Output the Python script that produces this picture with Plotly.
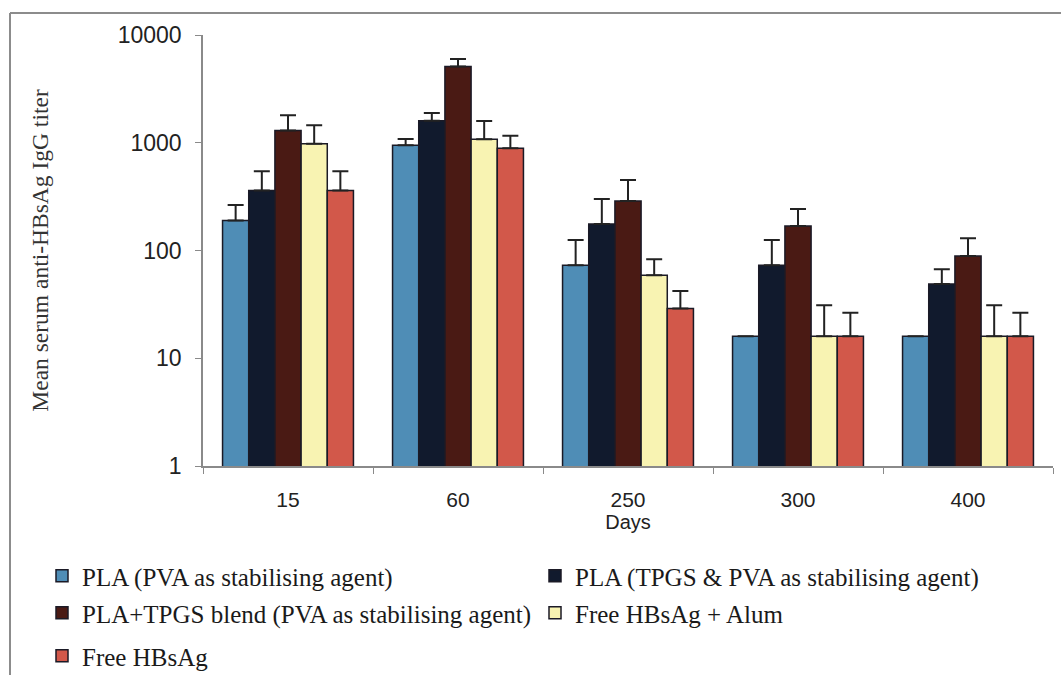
import plotly.graph_objects as go

# Sampling days (x categories)
days = ["15", "60", "250", "300", "400"]

# Formulation names
series_names = [
    "PLA (PVA as stabilising agent)",
    "PLA (TPGS & PVA as stabilising agent)",
    "PLA+TPGS blend (PVA as stabilising agent)",
    "Free HBsAg + Alum",
    "Free HBsAg",
]

# Mean titers per formulation, one value per day
pla_pva = [190, 950, 73, 16, 16]
pla_tpgs_pva = [360, 1600, 176, 73, 49]
pla_tpgs_blend = [1300, 5100, 288, 169, 89]
free_alum = [980, 1080, 59, 16, 16]
free_hbsag = [360, 890, 29, 16, 16]

# Upper error (SD) per formulation, one value per day
pla_pva_err = [75, 135, 52, None, None]
pla_tpgs_pva_err = [185, 290, 124, 52, 18]
pla_tpgs_blend_err = [500, 900, 164, 74, 41]
free_alum_err = [470, 510, 24, 15, 15]
free_hbsag_err = [185, 270, 13, 10.5, 10.5]

y_tick_values = [1, 10, 100, 1000, 10000]
y_tick_labels = ["1", "10", "100", "1000", "10000"]

values = [pla_pva, pla_tpgs_pva, pla_tpgs_blend, free_alum, free_hbsag]
errors = [pla_pva_err, pla_tpgs_pva_err, pla_tpgs_blend_err, free_alum_err, free_hbsag_err]
colors = ["#4f8db6", "#111a2d", "#4a1a14", "#f8f3b2", "#d2584a"]
legend_ids = ["legend", "legend", "legend2", "legend2", "legend3"]

# Page geometry (pixels)
W, H = 1061, 675
ML, MR, MT, MB = 203, 8, 35, 209
PW, PH = W - ML - MR, H - MT - MB


def px_x(x):
    return (x - ML) / PW


def px_y(y):
    return (H - MB - y) / PH


fig = go.Figure()
for name, vals, err, col, lg in zip(series_names, values, errors, colors, legend_ids):
    fig.add_trace(go.Bar(
        x=days, y=vals, name=name, legend=lg,
        marker=dict(color=col, line=dict(color="#1b1a26", width=1.5)),
        error_y=dict(type="data", symmetric=False, array=err,
                     arrayminus=[0] * len(err), color="#222222",
                     thickness=2, width=8),
    ))

serif = "Liberation Serif, Times New Roman, serif"
sans = "Liberation Sans, Arial, sans-serif"
legend_common = dict(
    orientation="h", xanchor="left", yanchor="top",
    font=dict(family=serif, size=25, color="#1a1a1a"),
    entrywidth=448, entrywidthmode="pixels",
    bgcolor="rgba(0,0,0,0)", borderwidth=0, itemclick=False,
)

fig.update_layout(
    width=W, height=H,
    margin=dict(l=ML, r=MR, t=MT, b=MB, autoexpand=False),
    paper_bgcolor="white", plot_bgcolor="white",
    barmode="group", bargap=0.23, bargroupgap=0,
    showlegend=True,
    legend=dict(x=px_x(42), y=px_y(553), **legend_common),
    legend2=dict(x=px_x(42), y=px_y(590), **legend_common),
    legend3=dict(x=px_x(42), y=px_y(633), **legend_common),
    xaxis=dict(
        type="category", showline=True, linecolor="#8a8a8a", linewidth=1.5,
        ticks="outside", tickson="boundaries", ticklen=6, tickcolor="#8a8a8a",
        tickfont=dict(family=sans, size=21, color="#222222"),
        ticklabelstandoff=14,
        title=dict(text="Days", font=dict(family=sans, size=20, color="#222222"),
                   standoff=2),
        showgrid=False, zeroline=False,
    ),
    yaxis=dict(
        type="log", range=[0, 4], tickvals=y_tick_values, ticktext=y_tick_labels,
        showline=True, linecolor="#8a8a8a", linewidth=1.5,
        ticks="outside", ticklen=6, tickcolor="#8a8a8a",
        tickfont=dict(family=sans, size=23, color="#222222"),
        ticklabelstandoff=9,
        title=dict(text="Mean serum anti-HBsAg IgG titer",
                   font=dict(family=serif, size=23.5, color="#333333"),
                   standoff=62),
        showgrid=False, zeroline=False,
    ),
    shapes=[
        dict(type="line", xref="paper", yref="paper",
             x0=px_x(10), x1=px_x(W), y0=px_y(13), y1=px_y(13),
             line=dict(color="#8c8c8c", width=2)),
        dict(type="line", xref="paper", yref="paper",
             x0=px_x(10), x1=px_x(10), y0=px_y(13), y1=px_y(H),
             line=dict(color="#8c8c8c", width=2)),
    ],
)

fig.write_html("out.html")
